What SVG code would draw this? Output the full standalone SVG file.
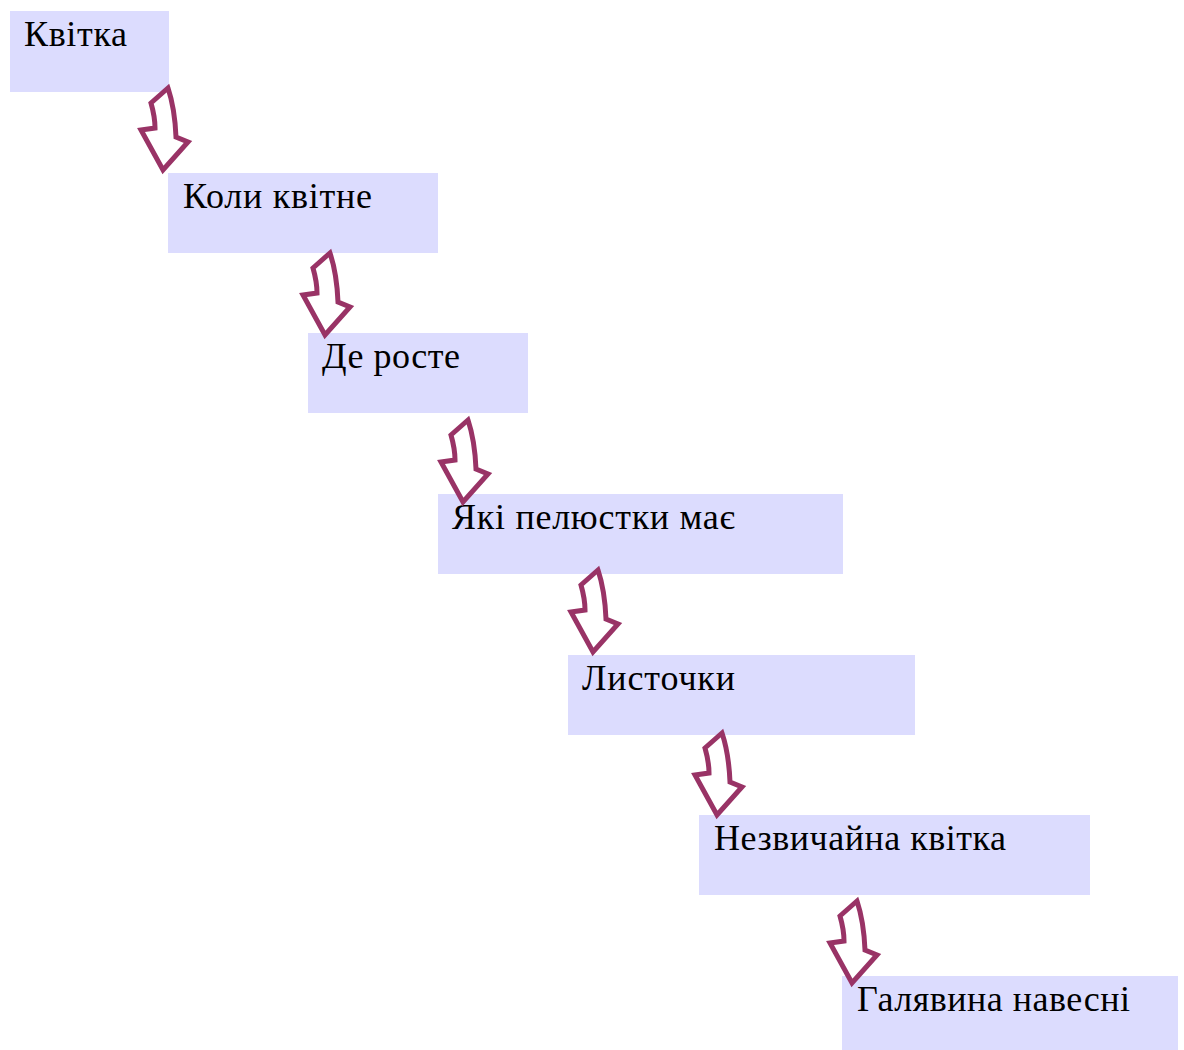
<svg xmlns="http://www.w3.org/2000/svg" xmlns:xlink="http://www.w3.org/1999/xlink" width="1184" height="1050" viewBox="0 0 1184 1050">
<style>
.box{fill:#dcdcfe;}
.lbl{font-family:"Liberation Serif","Times New Roman",serif;font-size:36px;fill:#000;}
.arr{fill:#fff;stroke:#993366;stroke-width:5;stroke-linejoin:miter;}
</style>
<defs>
<path id="arrow" class="arr" d="M5,-82 C9,-70 12,-58 13,-33 L25,-28 L0,0 L-22,-40 L-8,-42 C-8,-52 -10,-60 -12,-67 Z"/>
</defs>
<rect width="1184" height="1050" fill="#fff"/>
<g id="n1"><rect class="box" x="10" y="11" width="159" height="81"/><text class="lbl" x="24" y="46" textLength="103">Квітка</text></g>
<g id="n2"><rect class="box" x="168" y="173" width="270" height="80"/><text class="lbl" x="183" y="208" textLength="189">Коли квітне</text></g>
<g id="n3"><rect class="box" x="308" y="333" width="220" height="80"/><text class="lbl" x="322" y="368" textLength="138">Де росте</text></g>
<g id="n4"><rect class="box" x="438" y="494" width="405" height="80"/><text class="lbl" x="452" y="529" textLength="283">Які пелюстки має</text></g>
<g id="n5"><rect class="box" x="568" y="655" width="347" height="80"/><text class="lbl" x="582" y="690" textLength="153">Листочки</text></g>
<g id="n6"><rect class="box" x="699" y="815" width="391" height="80"/><text class="lbl" x="714" y="850" textLength="292">Незвичайна квітка</text></g>
<g id="n7"><rect class="box" x="842" y="976" width="336" height="74"/><text class="lbl" x="857" y="1011" textLength="273">Галявина навесні</text></g>
<g id="connectors">
<use xlink:href="#arrow" href="#arrow" transform="translate(163,170)"/>
<use xlink:href="#arrow" href="#arrow" transform="translate(325,335)"/>
<use xlink:href="#arrow" href="#arrow" transform="translate(463,502)"/>
<use xlink:href="#arrow" href="#arrow" transform="translate(593,652)"/>
<use xlink:href="#arrow" href="#arrow" transform="translate(717,815)"/>
<use xlink:href="#arrow" href="#arrow" transform="translate(852,983)"/>
</g>
</svg>
